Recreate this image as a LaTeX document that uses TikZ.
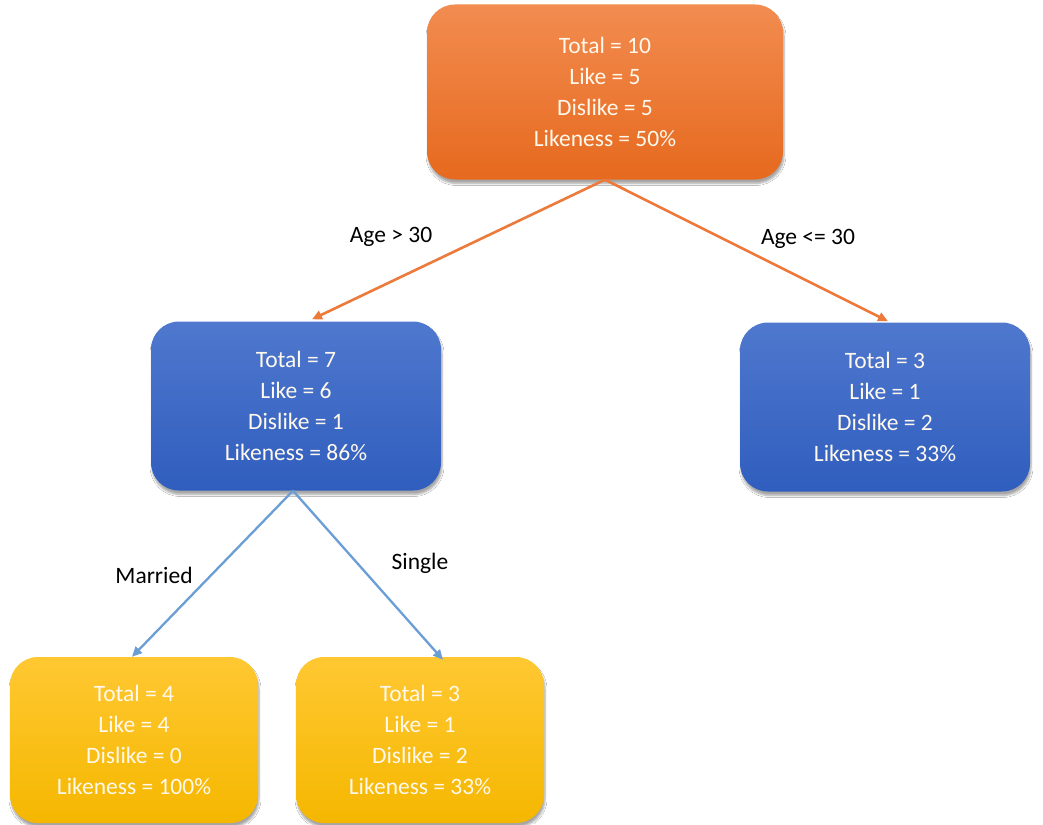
\documentclass[tikz,border=0pt]{standalone}
\usepackage{fontspec}
\setmainfont{Carlito}
\usetikzlibrary{arrows.meta,shadows.blur}
\definecolor{orTop}{HTML}{F28C50}
\definecolor{orBot}{HTML}{E6691E}
\definecolor{blTop}{HTML}{4F78CE}
\definecolor{blBot}{HTML}{305EBE}
\definecolor{yeTop}{HTML}{FFC832}
\definecolor{yeBot}{HTML}{F5B700}
\definecolor{orLine}{HTML}{EC7A3A}
\definecolor{blLine}{HTML}{6C9ED6}
\definecolor{boxText}{HTML}{FFF8EC}
\tikzset{
  box/.style={rounded corners=28pt, align=center, text=boxText,
    font=\fontsize{23.5}{31}\selectfont, inner sep=0pt,
    blur shadow={shadow xshift=1pt, shadow yshift=-4pt, shadow blur steps=6, shadow opacity=35}},
  orbox/.style={box, top color=orTop, bottom color=orBot, minimum width=356pt, minimum height=175pt},
  blbox/.style={box, top color=blTop, bottom color=blBot, minimum width=290pt, minimum height=169pt},
  yebox/.style={box, top color=yeTop, bottom color=yeBot, minimum width=248pt, minimum height=166pt},
  orarrow/.style={draw=orLine, line width=2.6pt, -{Triangle[length=10pt,width=9pt]}},
  blarrow/.style={draw=blLine, line width=2.3pt, -{Triangle[length=10pt,width=9pt]}},
  lbl/.style={font=\fontsize{23.5}{28}\selectfont, text=black, inner sep=1pt}
}
\begin{document}
\begin{tikzpicture}[x=1pt,y=-1pt]
\useasboundingbox[fill=white] (0,0) rectangle (1043,824);
\node[orbox] (root) at (605,92) {Total = 10\\Like = 5\\Dislike = 5\\Likeness = 50\%};
\node[blbox] (L) at (296,406) {Total = 7\\Like = 6\\Dislike = 1\\Likeness = 86\%};
\node[blbox] (R) at (885,407) {Total = 3\\Like = 1\\Dislike = 2\\Likeness = 33\%};
\node[yebox] (LL) at (134,740) {Total = 4\\Like = 4\\Dislike = 0\\Likeness = 100\%};
\node[yebox] (LR) at (420,740) {Total = 3\\Like = 1\\Dislike = 2\\Likeness = 33\%};
\draw[orarrow] (root.south) -- ([xshift=16pt,yshift=2pt]L.north);
\draw[orarrow] (root.south) -- ([xshift=3pt,yshift=1pt]R.north);
\draw[blarrow] ([xshift=-3pt]L.south) -- ([xshift=-2pt]LL.north);
\draw[blarrow] ([xshift=-3pt]L.south) -- ([xshift=23pt,yshift=-3pt]LR.north);
\node[lbl] (a1) at (391,237) {Age > 30};
\node[lbl] (a2) at (808,239) {Age <= 30};
\node[lbl] (m) at (154,575) {Married};
\node[lbl] (s) at (420,563) {Single};
\end{tikzpicture}
\end{document}
